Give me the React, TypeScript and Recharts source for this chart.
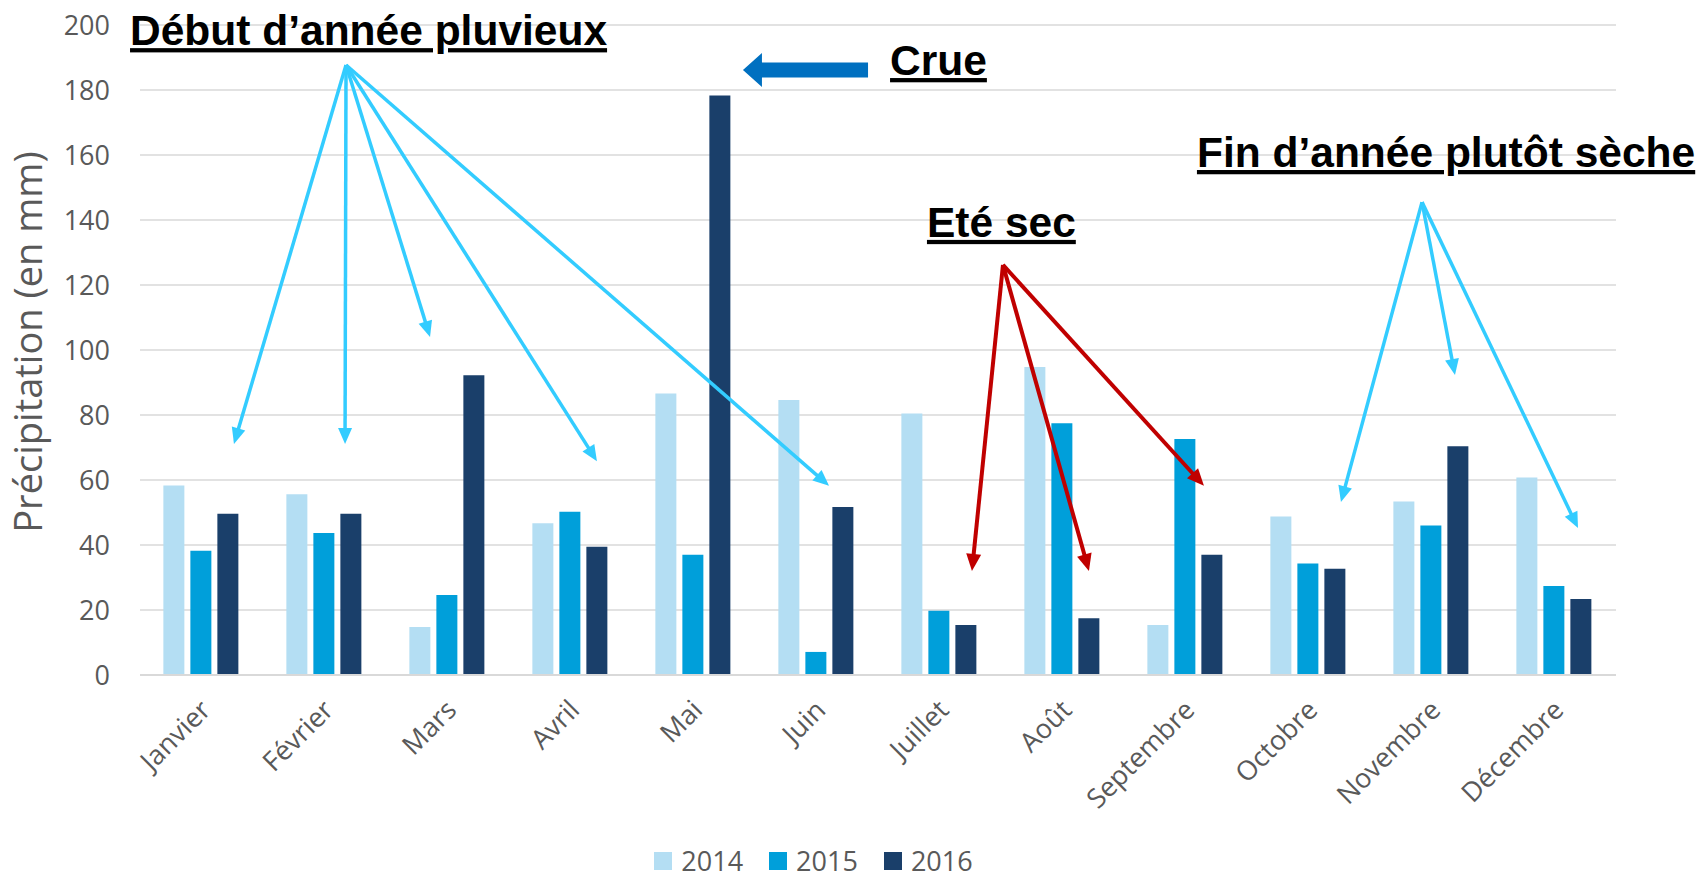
import React from "react";
import { BarChart, Bar, XAxis, YAxis, CartesianGrid, Legend, ReferenceLine, ReferenceDot } from "recharts";

const months = ["Janvier", "Février", "Mars", "Avril", "Mai", "Juin", "Juillet", "Août", "Septembre", "Octobre", "Novembre", "Décembre"];
const years = ["2014", "2015", "2016"];
const rain2014 = [58.3, 55.6, 14.8, 46.7, 86.6, 84.6, 80.5, 94.8, 15.4, 48.8, 53.4, 60.8];
const rain2015 = [38.2, 43.7, 24.6, 50.2, 37.0, 7.1, 19.8, 77.5, 72.6, 34.3, 46.0, 27.4];
const rain2016 = [49.6, 49.6, 92.2, 39.5, 178.3, 51.7, 15.4, 17.5, 37.0, 32.7, 70.4, 23.4];
const yTicks = [0, 20, 40, 60, 80, 100, 120, 140, 160, 180, 200];

const yearColors = ["#B4DEF3", "#009FDA", "#1A3F6A"];

// annotations: x = month index (0 = Janvier centre), y in mm
const labels = [
  { text: "Début d’année pluvieux", x: -0.581, y: 193.8 },
  { text: "Crue", x: 5.598, y: 184.6 },
  { text: "Eté sec", x: 5.898, y: 134.8 },
  { text: "Fin d’année plutôt sèche", x: 8.093, y: 156.3 },
];
const wetStart = { x: 1.175, y: 187.7 };
const wetTargets = [
  { x: 0.264, y: 71.1 },
  { x: 1.167, y: 71.1 },
  { x: 1.858, y: 104 },
  { x: 3.215, y: 65.8 },
  { x: 5.102, y: 58.2 },
];
const summerStart = { x: 6.516, y: 126.2 };
const summerTargets = [
  { x: 6.264, y: 32 },
  { x: 7.215, y: 32 },
  { x: 8.15, y: 58.2 },
];
const autumnStart = { x: 9.923, y: 145.5 };
const autumnTargets = [
  { x: 9.264, y: 53.2 },
  { x: 10.191, y: 92.3 },
  { x: 11.191, y: 45.2 },
];
const floodFrom = { x: 5.419, y: 186.15 };
const floodTo = { x: 4.402, y: 186.15 };

const data = months.map((m, i) => ({
  month: m,
  "2014": rain2014[i],
  "2015": rain2015[i],
  "2016": rain2016[i],
}));

const arrowShape = (color: string, width: number, headLen: number, headHalf: number) => (p: any) => {
  const { x1, y1, x2, y2 } = p;
  const len = Math.hypot(x2 - x1, y2 - y1) || 1;
  const ux = (x2 - x1) / len;
  const uy = (y2 - y1) / len;
  const bx = x2 - ux * headLen;
  const by = y2 - uy * headLen;
  const nx = -uy;
  const ny = ux;
  return (
    <g>
      <line x1={x1} y1={y1} x2={bx + ux * 2} y2={by + uy * 2} stroke={color} strokeWidth={width} />
      <polygon
        points={`${x2},${y2} ${bx + nx * headHalf},${by + ny * headHalf} ${bx - nx * headHalf},${by - ny * headHalf}`}
        fill={color}
      />
    </g>
  );
};

const blockArrow = (p: any) => {
  const { x1, y1, x2 } = p;
  const shaft = 7.5;
  const head = 17;
  const headLen = 19;
  const hx = x2 + headLen;
  return (
    <polygon
      points={`${x2},${y1} ${hx},${y1 - head} ${hx},${y1 - shaft} ${x1},${y1 - shaft} ${x1},${y1 + shaft} ${hx},${y1 + shaft} ${hx},${y1 + head}`}
      fill="#0070C0"
    />
  );
};

const labelShape = (text: string) => (p: any) => (
  <text
    x={p.cx}
    y={p.cy}
    fontFamily="Liberation Sans, Arial, sans-serif"
    fontWeight="bold"
    fontSize={42.5}
    fill="#000"
    style={{ textDecoration: "underline" }}
  >
    {text}
  </text>
);

const MonthTick = (props: any) => {
  const { x, y, payload } = props;
  return (
    <text
      transform={`translate(${x + 4},${y + 22}) rotate(-45)`}
      textAnchor="end"
      dy="0.35em"
      fill="#595959"
      fontSize={27}
      fontFamily="Open Sans"
    >
      {payload.value}
    </text>
  );
};

const renderLegend = () => (
  <div
    style={{
      display: "flex",
      justifyContent: "center",
      alignItems: "center",
      height: 28,
      position: "relative",
      left: -37,
      fontFamily: "Open Sans",
      fontSize: 27,
      color: "#595959",
    }}
  >
    {years.map((yr, i) => (
      <div key={yr} style={{ display: "flex", alignItems: "center", marginLeft: i ? 26 : 0 }}>
        <span style={{ display: "inline-block", width: 18, height: 18, background: yearColors[i], marginRight: 9 }} />
        <span style={{ lineHeight: "28px" }}>{yr}</span>
      </div>
    ))}
  </div>
);

export default function App() {
  return (
    <div style={{ position: "absolute", left: 0, top: 0, width: 1701, height: 880, background: "#fff" }}>
      <BarChart
        width={1701}
        height={880}
        data={data}
        margin={{ top: 25, right: 85, bottom: 0, left: 0 }}
        barCategoryGap="19%"
        barGap={6}
      >
        <CartesianGrid vertical={false} stroke="#D9D9D9" strokeWidth={1.5} />
        <XAxis
          dataKey="month"
          interval={0}
          height={177}
          tickLine={false}
          axisLine={{ stroke: "#D9D9D9", strokeWidth: 2 }}
          tick={<MonthTick />}
        />
        <XAxis
          xAxisId="ann"
          type="number"
          domain={[0, 11]}
          padding={{ left: 61.5, right: 61.5 }}
          hide
          allowDataOverflow
        />
        <YAxis
          width={140}
          domain={[0, 200]}
          ticks={yTicks}
          tickLine={false}
          axisLine={false}
          tickMargin={24}
          tick={{ fill: "#595959", fontSize: 27, fontFamily: "Open Sans" }}
          label={{
            content: (lp: any) => {
              const vb = lp.viewBox || { x: 0, y: 25, width: 140, height: 650 };
              const cx = vb.x + 42;
              const cy = vb.y + vb.height / 2 - 8;
              return (
                <text
                  x={cx}
                  y={cy}
                  transform={`rotate(-90 ${cx} ${cy})`}
                  textAnchor="middle"
                  fill="#595959"
                  fontSize={38}
                  fontFamily="Open Sans"
                >
                  Précipitation (en mm)
                </text>
              );
            },
          }}
        />
        <Legend verticalAlign="bottom" content={renderLegend} wrapperStyle={{ left: 0, width: 1701, bottom: 5 }} />
        {years.map((yr, i) => (
          <Bar key={yr} dataKey={yr} fill={yearColors[i]} isAnimationActive={false} />
        ))}
        {wetTargets.map((t, i) => (
          <ReferenceLine
            key={`w${i}`}
            xAxisId="ann"
            segment={[wetStart, t]}
            ifOverflow="visible"
            shape={arrowShape("#33CCFF", 3.5, 16, 7)}
          />
        ))}
        {summerTargets.map((t, i) => (
          <ReferenceLine
            key={`s${i}`}
            xAxisId="ann"
            segment={[summerStart, t]}
            ifOverflow="visible"
            shape={arrowShape("#C00000", 4, 17, 7.5)}
          />
        ))}
        {autumnTargets.map((t, i) => (
          <ReferenceLine
            key={`a${i}`}
            xAxisId="ann"
            segment={[autumnStart, t]}
            ifOverflow="visible"
            shape={arrowShape("#33CCFF", 3.5, 16, 7)}
          />
        ))}
        <ReferenceLine xAxisId="ann" segment={[floodFrom, floodTo]} ifOverflow="visible" shape={blockArrow} />
        {labels.map((l) => (
          <ReferenceDot
            key={l.text}
            xAxisId="ann"
            x={l.x}
            y={l.y}
            r={0}
            ifOverflow="visible"
            shape={labelShape(l.text)}
          />
        ))}
      </BarChart>
    </div>
  );
}
